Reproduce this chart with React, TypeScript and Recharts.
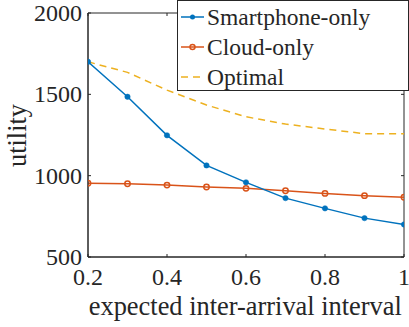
import React from 'react';
import { LineChart, Line, XAxis, YAxis, Legend, ReferenceArea } from 'recharts';

// data
const intervals = [0.2, 0.3, 0.4, 0.5, 0.6, 0.7, 0.8, 0.9, 1.0];
const smartphoneOnly = [1700, 1485, 1248, 1063, 959, 862, 799, 739, 700];
const cloudOnly = [954, 950, 942, 930, 922, 907, 891, 877, 867];
const optimal = [1700, 1635, 1526, 1434, 1362, 1317, 1287, 1258, 1258];

const xTicks = [0.2, 0.4, 0.6, 0.8, 1];
const yTicks = [500, 1000, 1500, 2000];

const seriesNames = ['Smartphone-only', 'Cloud-only', 'Optimal'];

const BLUE = '#0072BD';
const ORANGE = '#D95319';
const YELLOW = '#EDB120';
const AXIS = '#262626';
const FONT = '"Liberation Serif", "Times New Roman", serif';

// plot box (px)
const LEFT = 88;
const RIGHT = 404;
const TOP = 13;
const BOTTOM = 257;
const TICK_LEN = 3;

const data = intervals.map((x, i) => ({
  x,
  smart: smartphoneOnly[i],
  cloud: cloudOnly[i],
  opt: optimal[i],
}));

const XTick = (props: any) => {
  const { x, payload } = props;
  return (
    <g>
      <line x1={x} x2={x} y1={BOTTOM} y2={BOTTOM - TICK_LEN} stroke={AXIS} />
      <line x1={x} x2={x} y1={TOP} y2={TOP + TICK_LEN} stroke={AXIS} />
      <text x={x} y={285} textAnchor="middle" fill={AXIS} fontSize={24} fontFamily={FONT}>
        {String(payload.value)}
      </text>
    </g>
  );
};

const YTick = (props: any) => {
  const { y, payload } = props;
  return (
    <g>
      <line x1={LEFT} x2={LEFT + TICK_LEN} y1={y} y2={y} stroke={AXIS} />
      <line x1={RIGHT} x2={RIGHT - TICK_LEN} y1={y} y2={y} stroke={AXIS} />
      <text x={82} y={y + 8} textAnchor="end" fill={AXIS} fontSize={24} fontFamily={FONT}>
        {String(payload.value)}
      </text>
    </g>
  );
};

const LegendBox = () => {
  const styles = [
    { color: BLUE, dash: undefined, marker: 'dot' },
    { color: ORANGE, dash: undefined, marker: 'circle' },
    { color: YELLOW, dash: '7 5', marker: 'none' },
  ];
  return (
    <div
      style={{
        border: `1px solid ${AXIS}`,
        background: '#fff',
        width: 232,
        height: 91,
        boxSizing: 'border-box',
        fontFamily: FONT,
        fontSize: 23.5,
        color: AXIS,
        paddingTop: 1,
      }}
    >
      {seriesNames.map((name, i) => (
        <div key={name} style={{ display: 'flex', alignItems: 'center', height: 30, lineHeight: '30px' }}>
          <svg width={29} height={30} style={{ flex: 'none' }}>
            <line x1={3} x2={26} y1={15} y2={15} stroke={styles[i].color} strokeWidth={1.5} strokeDasharray={styles[i].dash} />
            {styles[i].marker === 'dot' && <circle cx={14.5} cy={15} r={2.5} fill={styles[i].color} />}
            {styles[i].marker === 'circle' && (
              <circle cx={14.5} cy={15} r={2.5} fill="none" stroke={styles[i].color} strokeWidth={1.5} />
            )}
          </svg>
          <span style={{ whiteSpace: 'nowrap' }}>{name}</span>
        </div>
      ))}
    </div>
  );
};

export default function App() {
  return (
    <div style={{ position: 'absolute', left: 0, top: 0, width: 409, height: 327, background: '#fff', overflow: 'hidden' }}>
      <LineChart
        width={409}
        height={327}
        data={data}
        margin={{ top: TOP, right: 409 - RIGHT, left: 0, bottom: 0 }}
      >
        <XAxis
          dataKey="x"
          type="number"
          domain={[0.2, 1]}
          ticks={xTicks}
          height={327 - BOTTOM}
          stroke={AXIS}
          tickLine={false}
          tick={<XTick />}
          interval={0}
          allowDataOverflow
        />
        <YAxis
          type="number"
          domain={[500, 2000]}
          ticks={yTicks}
          width={LEFT}
          stroke={AXIS}
          tickLine={false}
          tick={<YTick />}
          interval={0}
          allowDataOverflow
        />
        <ReferenceArea x1={0.2} x2={1} y1={500} y2={2000} fill="none" stroke={AXIS} strokeWidth={1} ifOverflow="visible" />
        <Line
          dataKey="opt"
          name={seriesNames[2]}
          stroke={YELLOW}
          strokeWidth={1.5}
          strokeDasharray="7 5"
          dot={false}
          isAnimationActive={false}
        />
        <Line
          dataKey="cloud"
          name={seriesNames[1]}
          stroke={ORANGE}
          strokeWidth={1.5}
          dot={{ r: 2.7, fill: 'none', stroke: ORANGE, strokeWidth: 1.5 }}
          isAnimationActive={false}
        />
        <Line
          dataKey="smart"
          name={seriesNames[0]}
          stroke={BLUE}
          strokeWidth={1.5}
          dot={{ r: 2.7, fill: BLUE, stroke: BLUE, strokeWidth: 0.5 }}
          isAnimationActive={false}
        />
        <Legend
          layout="vertical"
          align="center"
          verticalAlign="middle"
          content={<LegendBox />}
          wrapperStyle={{ position: 'absolute', left: 177, top: 0, width: 232, height: 91 }}
        />
        <text
          x={26}
          y={135.5}
          transform="rotate(-90 26 135.5)"
          textAnchor="middle"
          fill={AXIS}
          fontSize={26.4}
          fontFamily={FONT}
        >
          utility
        </text>
        <text x={245.3} y={315} textAnchor="middle" fill={AXIS} fontSize={26.4} fontFamily={FONT}>
          expected inter-arrival interval
        </text>
      </LineChart>
    </div>
  );
}
